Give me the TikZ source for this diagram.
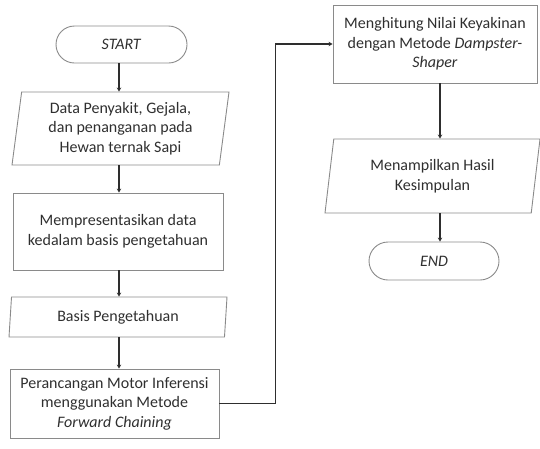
\documentclass[tikz,border=0pt]{standalone}
\usepackage{fontspec}
\setmainfont{Carlito}
\usetikzlibrary{shapes.geometric,shapes.misc,arrows.meta}
\definecolor{border}{HTML}{8A8A8A}
\definecolor{wire}{HTML}{2E2E2E}
\definecolor{ink}{HTML}{2F2F2F}
\tikzset{
  base/.style={draw=border, line width=0.9pt, text=ink, font=\fontsize{16}{19.5}\selectfont, align=center, inner sep=1pt},
  procbox/.style={base, rectangle},
  termbox/.style={base, rounded rectangle},
  iobox/.style={base, trapezium, trapezium left angle=80, trapezium right angle=100, trapezium stretches body=true},
  conn/.style={draw=wire, line width=1.2pt, -{Stealth[length=4pt,width=4.5pt]}}
}
\begin{document}
\begin{tikzpicture}[x=1pt,y=-1pt]
\useasboundingbox (0,0) rectangle (540,448);
\node[termbox, minimum width=133pt, minimum height=37pt] (start) at (121.5,44.5) {\textit{START}};
\node[iobox, minimum width=217pt, minimum height=73pt] (data) at (120.5,128.5) {Data Penyakit, Gejala,\\dan penanganan pada\\Hewan ternak Sapi};
\node[procbox, minimum width=210pt, minimum height=77pt] (rep) at (118,231.5) {Mempresentasikan data\\kedalam basis pengetahuan};
\node[iobox, trapezium left angle=81, trapezium right angle=99, minimum width=218pt, minimum height=40pt] (basis) at (118,317) {Basis Pengetahuan};
\node[procbox, minimum width=209pt, minimum height=69pt] (motor) at (114.5,403.5) {Perancangan Motor Inferensi\\menggunakan Metode\\\textit{Forward Chaining}};
\node[procbox, minimum width=204pt, minimum height=78pt] (hit) at (435,44) {Menghitung Nilai Keyakinan\\dengan Metode \textit{Dampster-}\\\textit{Shaper}};
\node[iobox, trapezium left angle=76, trapezium right angle=104, minimum width=215pt, minimum height=74pt] (show) at (432.5,176) {Menampilkan Hasil\\Kesimpulan};
\node[termbox, minimum width=132pt, minimum height=38pt] (end) at (434,261) {\textit{END}};
\coordinate (c1) at (119,0);
\coordinate (c2) at (440,0);
\coordinate (bend) at (275.5,0);
\draw[conn] (c1 |- start.south) -- (c1 |- data.north);
\draw[conn] (c1 |- data.south) -- (c1 |- rep.north);
\draw[conn] (c1 |- rep.south) -- (c1 |- basis.north);
\draw[conn] (c1 |- basis.south) -- (c1 |- motor.north);
\draw[conn] (motor.east) -- (bend |- motor.east) -- (bend |- hit.west) -- (hit.west);
\draw[conn] (c2 |- hit.south) -- (c2 |- show.north);
\draw[conn] (c2 |- show.south) -- (c2 |- end.north);
\end{tikzpicture}
\end{document}
